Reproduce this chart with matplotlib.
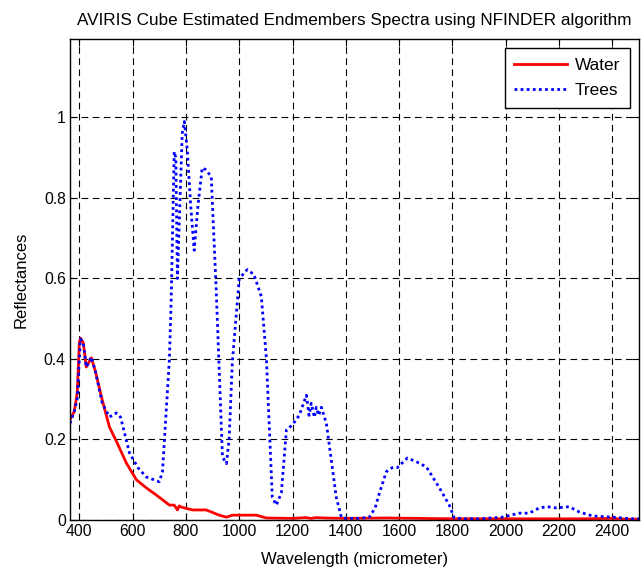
import numpy as np
import matplotlib.pyplot as plt

# wavelength (nm) / reflectance
trees_wl = [365, 381, 392, 400, 404, 415, 426, 445, 460, 486, 513, 539, 555, 588, 620, 651,
            700, 712, 738, 745, 756, 762, 768, 778, 786, 794, 805, 818, 831, 845, 861, 875,
            895, 914, 937, 952, 962, 974, 1000, 1030, 1055, 1083, 1102, 1124, 1139, 1158,
            1177, 1199, 1225, 1252, 1262, 1270, 1282, 1289, 1298, 1308, 1327, 1364, 1383,
            1400, 1450, 1488, 1510, 1526, 1552, 1574, 1593, 1612, 1631, 1664, 1702, 1751,
            1788, 1807, 1850, 1900, 1987, 2051, 2088, 2126, 2156, 2190, 2238, 2276, 2325,
            2400, 2475, 2500]
trees_refl = [0.24, 0.27, 0.30, 0.40, 0.45, 0.44, 0.38, 0.405, 0.37, 0.29, 0.256, 0.266, 0.255,
              0.167, 0.13, 0.107, 0.095, 0.12, 0.40, 0.555, 0.915, 0.90, 0.60, 0.80, 0.96, 0.99,
              0.92, 0.78, 0.67, 0.78, 0.875, 0.87, 0.853, 0.565, 0.157, 0.14, 0.20, 0.39, 0.60,
              0.622, 0.61, 0.555, 0.40, 0.057, 0.037, 0.067, 0.224, 0.236, 0.26, 0.31, 0.26,
              0.29, 0.255, 0.28, 0.26, 0.28, 0.24, 0.057, 0.007, 0.004, 0.004, 0.007, 0.03,
              0.067, 0.12, 0.13, 0.13, 0.142, 0.154, 0.145, 0.132, 0.08, 0.037, 0.005, 0.003,
              0.003, 0.007, 0.017, 0.017, 0.03, 0.033, 0.03, 0.033, 0.02, 0.01, 0.007, 0.003,
              0.003]

water_wl = [365, 381, 392, 400, 404, 415, 426, 445, 460, 486, 513, 543, 576, 614, 651, 689,
            738, 756, 768, 775, 783, 824, 876, 925, 952, 974, 1064, 1102, 1200, 1250, 1270,
            1290, 1320, 1400, 1550, 1800, 2000, 2300, 2400, 2450, 2500]
water_refl = [0.249, 0.27, 0.315, 0.44, 0.452, 0.44, 0.38, 0.403, 0.37, 0.298, 0.231, 0.19,
              0.142, 0.10, 0.08, 0.062, 0.037, 0.037, 0.025, 0.035, 0.032, 0.025, 0.025, 0.012,
              0.007, 0.012, 0.012, 0.005, 0.004, 0.006, 0.004, 0.006, 0.005, 0.004, 0.005,
              0.003, 0.003, 0.003, 0.004, 0.002, 0.002]

xticks = [400, 600, 800, 1000, 1200, 1400, 1600, 1800, 2000, 2200, 2400]
yticks = [0, 0.2, 0.4, 0.6, 0.8, 1]

plt.rcParams['font.family'] = ['Liberation Sans', 'DejaVu Sans']
plt.rcParams['font.size'] = 11.3

fig = plt.figure(figsize=(6.44, 5.71), dpi=100)
ax = fig.add_axes([70 / 644, 51 / 571, 569 / 644, 481 / 571])

ax.plot(water_wl, water_refl, color='red', lw=2, label='Water')
ax.plot(trees_wl, trees_refl, color='blue', lw=2, ls=(0, (1, 1.2)), label='Trees')

ax.set_xlim(365, 2500)
ax.set_ylim(0, 1.195)
ax.set_xticks(xticks)
ax.set_xticklabels([str(v) for v in xticks])
ax.set_yticks(yticks)
ax.set_yticklabels(['0', '0.2', '0.4', '0.6', '0.8', '1'])
ax.tick_params(direction='in', top=True, right=True, length=5, width=0.8, pad=3)
ax.grid(True, color='black', ls=(0, (6, 4)), lw=0.8)
for s in ax.spines.values():
    s.set_linewidth(1)

ax.set_title('AVIRIS Cube Estimated Endmembers Spectra using NFINDER algorithm', fontsize=12.3, pad=10)
ax.set_xlabel('Wavelength (micrometer)', fontsize=12, labelpad=9)
ax.set_ylabel('Reflectances', fontsize=12, labelpad=11)

leg = ax.legend(loc='upper right', fancybox=False, framealpha=1, edgecolor='black',
                borderaxespad=0.55, handlelength=3.05, handletextpad=0.45,
                labelspacing=0.6, borderpad=0.55, fontsize=12.4)
leg.get_frame().set_linewidth(1)

fig.savefig('out.png', dpi=100)
